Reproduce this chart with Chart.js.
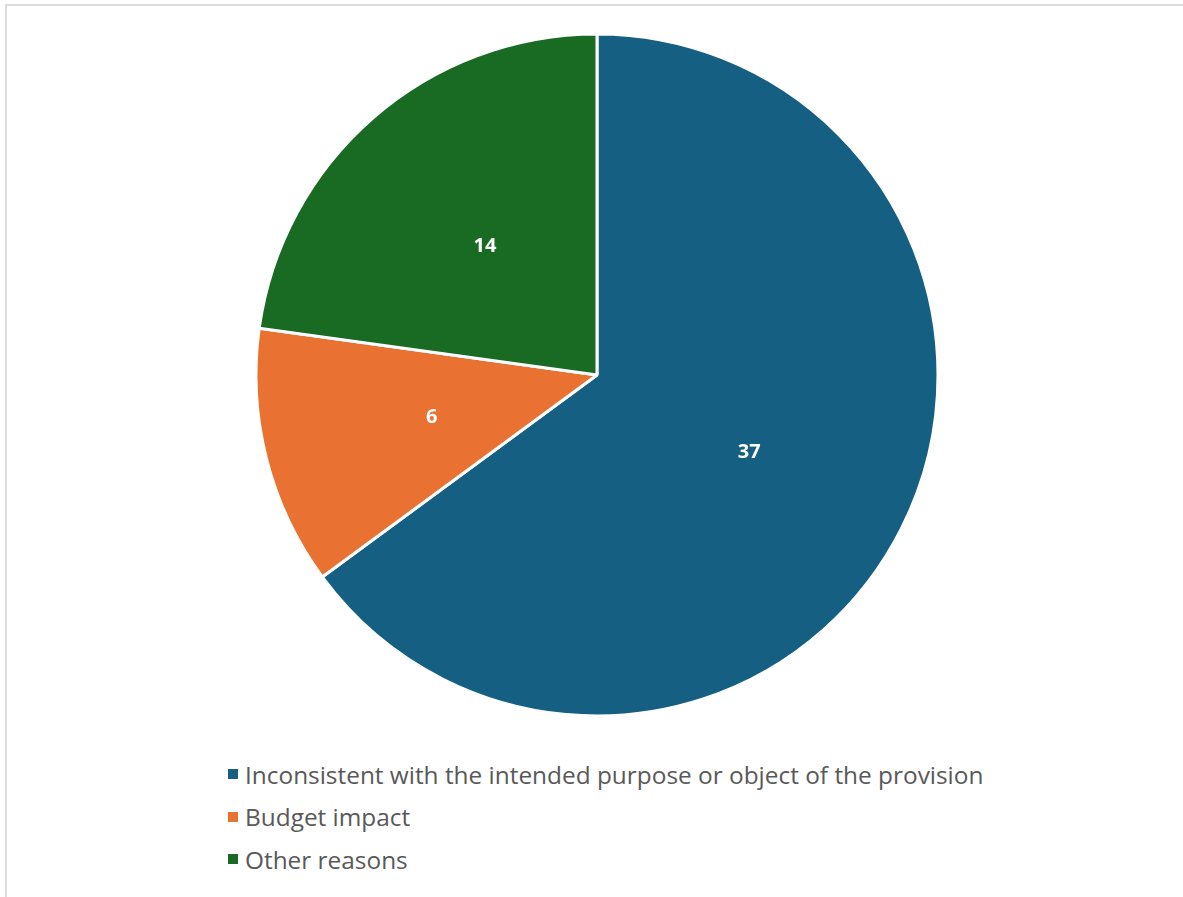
<!DOCTYPE html>
<html>
<head>
<meta charset="utf-8">
<script src="https://cdn.jsdelivr.net/npm/chart.js@4.4.1/dist/chart.umd.min.js"></script>
<style>
    html, body { margin: 0; padding: 0; background: #fff; width: 1183px; height: 897px; overflow: hidden; }
    #frame { position: absolute; left: 5px; top: 4px; width: 1200px; height: 920px; border: 2px solid #dcdcdc; box-sizing: border-box; }
    #pieBox { position: absolute; left: 247px; top: 25px; width: 700px; height: 700px; }
    #legend { position: absolute; left: 228px; top: 753px; font-family: "Open Sans", "Noto Sans", sans-serif; font-size: 24.4px; color: #595959; }
    .item { height: 42.5px; display: flex; align-items: center; white-space: nowrap; }
    .box { width: 10px; height: 10px; margin-right: 7px; flex: none; }
</style>
</head>
<body>
<div id="frame"></div>
<div id="pieBox"><canvas id="pieChart"></canvas></div>
<div id="legend"></div>
<script>
// chart data
const categories = [
    'Inconsistent with the intended purpose or object of the provision',
    'Budget impact',
    'Other reasons'
];
const sliceSizes = [37, 7, 13];
// numbers printed on the slices
const sliceText = ['37', '6', '14'];
const colors = ['#156082', '#E97132', '#196B24'];

// value labels in the middle of each slice
const sliceLabels = {
    id: 'sliceLabels',
    afterDatasetsDraw(chart) {
        const ctx = chart.ctx;
        const meta = chart.getDatasetMeta(0);
        ctx.save();
        ctx.fillStyle = '#ffffff';
        ctx.font = 'bold 20px "Open Sans", sans-serif';
        ctx.textAlign = 'center';
        ctx.textBaseline = 'middle';
        meta.data.forEach((arc, i) => {
            const pos = arc.tooltipPosition();
            ctx.fillText(sliceText[i], pos.x, pos.y);
        });
        ctx.restore();
    }
};

const ctx = document.getElementById('pieChart').getContext('2d');
new Chart(ctx, {
    type: 'pie',
    data: {
        labels: categories,
        datasets: [{
            data: sliceSizes,
            backgroundColor: colors,
            borderColor: '#ffffff',
            borderWidth: 3
        }]
    },
    options: {
        responsive: true,
        maintainAspectRatio: false,
        animation: false,
        radius: 341,
        plugins: {
            legend: { display: false },
            tooltip: { enabled: false }
        }
    },
    plugins: [sliceLabels]
});

// legend as html, left aligned list
const legendEl = document.getElementById('legend');
categories.forEach((name, i) => {
    const row = document.createElement('div');
    row.className = 'item';
    row.innerHTML = `<span class="box" style="background:${colors[i]}"></span><span>${name}</span>`;
    legendEl.appendChild(row);
});
</script>
</body>
</html>
